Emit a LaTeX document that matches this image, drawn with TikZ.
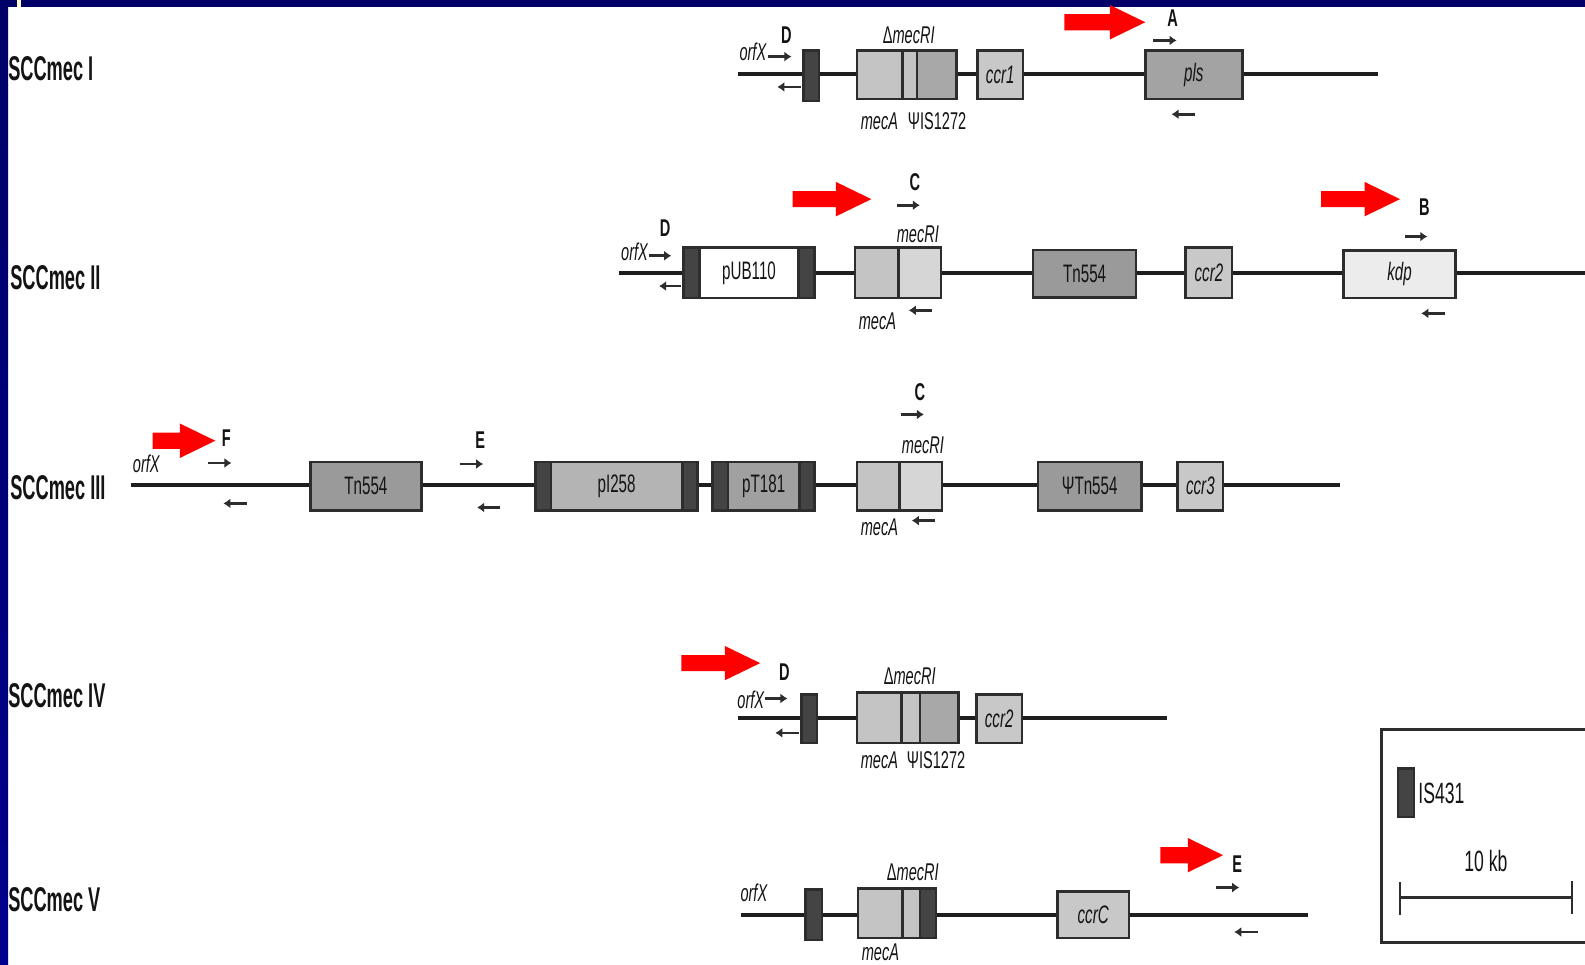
\documentclass[tikz,border=0pt]{standalone}
\usepackage{fontspec}
\setmainfont{Liberation Sans}[FakeStretch=0.6]
\newfontfamily\rowf{Liberation Sans}[FakeStretch=0.53]
\usetikzlibrary{arrows.meta}
\definecolor{navyA}{RGB}{0,0,104}
\definecolor{navyB}{RGB}{0,0,140}
\definecolor{lineC}{RGB}{30,30,30}
\definecolor{edgeC}{RGB}{45,45,45}
\definecolor{isC}{RGB}{68,68,68}
\definecolor{mecL}{RGB}{196,196,196}
\definecolor{mecLL}{RGB}{214,214,214}
\definecolor{mecD}{RGB}{168,168,168}
\definecolor{tnC}{RGB}{154,154,154}
\definecolor{ccrF}{RGB}{200,200,200}
\definecolor{plsC}{RGB}{163,163,163}
\definecolor{kdpC}{RGB}{236,236,236}
\definecolor{pIC}{RGB}{180,180,180}
\definecolor{pTC}{RGB}{160,160,160}
\definecolor{txtC}{RGB}{20,20,20}
\definecolor{arrowred}{RGB}{255,0,0}
\definecolor{markC}{RGB}{255,255,204}
\tikzset{
 backbone/.style={draw=lineC, line width=4pt},
 gbox/.style={draw=edgeC, line width=2.5pt, inner sep=0pt, text=txtC, font=\fontsize{25}{29}\selectfont},
 capbox/.style={gbox, fill=isC},
 lbl/.style={inner sep=0pt, text=txtC, font=\fontsize{24}{28}\selectfont},
 letter/.style={inner sep=0pt, text=txtC, font=\fontsize{24}{28}\selectfont\bfseries},
 biglbl/.style={inner sep=0pt, text=txtC, font=\fontsize{29}{34}\selectfont},
 rowlbl/.style={inner sep=0pt, anchor=west, text=txtC, font=\fontsize{34}{40}\rowf\bfseries},
 primer/.style={draw=edgeC, line width=2.6pt, -{Latex[length=7pt,width=10pt]}},
 legline/.style={draw=edgeC, line width=3pt},
}
\newcommand\redarrow[3]{%
 \fill[arrowred] (#1-#3,#2-8) -- (#1-35,#2-8) -- (#1-35,#2-17) -- (#1,#2) -- (#1-35,#2+17) -- (#1-35,#2+8) -- (#1-#3,#2+8) -- cycle;}
\begin{document}
\begin{tikzpicture}[x=1pt,y=-1pt]
\useasboundingbox (0,0) rectangle (1568,954);
\fill[white] (0,0) rectangle (1568,954);
% slide frame
\shade[top color=navyA,bottom color=navyB] (0,0) rectangle (8,954);
\fill[navyA] (0,0) rectangle (1568,6.5);
\fill[markC] (16.5,0) rectangle (20.5,6.5);

% row labels
\node[rowlbl] (r1) at (8,68) {SCCmec I};
\node[rowlbl] (r2) at (10,275) {SCCmec II};
\node[rowlbl] (r3) at (10,482) {SCCmec III};
\node[rowlbl] (r4) at (8,688) {SCCmec IV};
\node[rowlbl] (r5) at (8,890) {SCCmec V};

% ================= Row I
\coordinate (b1s) at (730,73); \coordinate (b1e) at (1363,73);
\draw[backbone] (b1s) -- (b1e);
\node[capbox, minimum width=15, minimum height=50] (is1) at (802.5,75) {};
\node[gbox, fill=mecL, minimum width=45, minimum height=48] (m1a) at (870.5,74) {};
\node[gbox, fill=mecL, minimum width=14, minimum height=48] (m1b) at (900,74) {};
\node[gbox, fill=mecD, minimum width=39, minimum height=48] (m1c) at (926.5,74) {};
\node[gbox, fill=ccrF, minimum width=45, minimum height=48] (ccr1) at (989.5,74) {\textit{ccr1}};
\node[gbox, fill=plsC, minimum width=96, minimum height=48] (pls) at (1181,74) {\textit{pls}};
\node[lbl] (orf1) at (745,51) {\textit{orfX}};
\node[letter] (D1) at (778,35) {D};
\coordinate (p1a) at (760,56); \coordinate (p1b) at (783,56);
\draw[primer] (p1a) -- (p1b);
\coordinate (p1c) at (792,86); \coordinate (p1d) at (769,86);
\draw[primer] (p1c) -- (p1d);
\node[lbl] (dm1) at (899,35) {Δ\textit{mecRI}};
\node[lbl] (ma1) at (870,120) {\textit{mecA}};
\node[lbl] (ps1) at (927,120) {ΨIS1272};
\redarrow{1133}{22}{80}
\node[letter] (A1) at (1160,18) {A};
\coordinate (p1e) at (1141,40); \coordinate (p1f) at (1164,40);
\draw[primer] (p1e) -- (p1f);
\coordinate (p1g) at (1182,113); \coordinate (p1h) at (1159,113);
\draw[primer] (p1g) -- (p1h);

% ================= Row II
\coordinate (b2s) at (612,270); \coordinate (b2e) at (1568,270);
\draw[backbone] (b2s) -- (b2e);
\node[lbl] (orf2) at (628,249) {\textit{orfX}};
\node[letter] (D2) at (658,226) {D};
\coordinate (p2a) at (642,253); \coordinate (p2b) at (664,253);
\draw[primer] (p2a) -- (p2b);
\coordinate (p2c) at (674,283); \coordinate (p2d) at (652,283);
\draw[primer] (p2c) -- (p2d);
\node[gbox, fill=white, minimum width=130, minimum height=50] (pub) at (741,270) {pUB110};
\node[capbox, minimum width=16, minimum height=50] (pubL) at (684,270) {};
\node[capbox, minimum width=16, minimum height=50] (pubR) at (798,270) {};
\node[gbox, fill=mecL, minimum width=43, minimum height=50] (m2a) at (867.5,270) {};
\node[gbox, fill=mecLL, minimum width=42, minimum height=50] (m2b) at (910,270) {};
\node[lbl] (mr2) at (908,232) {\textit{mecRI}};
\node[lbl] (ma2) at (868,318) {\textit{mecA}};
\coordinate (p2e) at (922,307); \coordinate (p2f) at (899,307);
\draw[primer] (p2e) -- (p2f);
\redarrow{862}{197}{78}
\node[letter] (C2) at (905,180) {C};
\coordinate (p2g) at (887,203); \coordinate (p2h) at (910,203);
\draw[primer] (p2g) -- (p2h);
\node[gbox, fill=tnC, minimum width=102, minimum height=47] (tn2) at (1073,271) {Tn554};
\node[gbox, fill=ccrF, minimum width=46, minimum height=50] (ccr2) at (1196,270) {\textit{ccr2}};
\node[gbox, fill=kdpC, minimum width=111, minimum height=47] (kdp) at (1384.5,271.5) {\textit{kdp}};
\redarrow{1385}{197}{78}
\node[letter] (B2) at (1409,205) {B};
\coordinate (p2i) at (1390,234); \coordinate (p2j) at (1412,234);
\draw[primer] (p2i) -- (p2j);
\coordinate (p2k) at (1429,310); \coordinate (p2l) at (1406,310);
\draw[primer] (p2k) -- (p2l);

% ================= Row III
\coordinate (b3s) at (130,480); \coordinate (b3e) at (1326,480);
\draw[backbone] (b3s) -- (b3e);
\node[lbl] (orf3) at (145,459) {\textit{orfX}};
\redarrow{213}{436}{62}
\node[letter] (F3) at (224,433) {F};
\coordinate (p3a) at (206,458); \coordinate (p3b) at (229,458);
\draw[primer] (p3a) -- (p3b);
\coordinate (p3c) at (244,498); \coordinate (p3d) at (221,498);
\draw[primer] (p3c) -- (p3d);
\node[gbox, fill=tnC, minimum width=110, minimum height=48] (tn3) at (362,481) {Tn554};
\node[letter] (E3) at (475,435) {E};
\coordinate (p3e) at (455,459); \coordinate (p3f) at (478,459);
\draw[primer] (p3e) -- (p3f);
\coordinate (p3g) at (495,502); \coordinate (p3h) at (472,502);
\draw[primer] (p3g) -- (p3h);
\node[gbox, fill=pIC, minimum width=160, minimum height=48] (pi) at (610,481) {pI258};
\node[capbox, minimum width=15, minimum height=48] (piL) at (537.5,481) {};
\node[capbox, minimum width=15, minimum height=48] (piR) at (682.5,481) {};
\node[gbox, fill=pTC, minimum width=101, minimum height=48] (pt) at (755.5,481) {pT181};
\node[capbox, minimum width=15, minimum height=48] (ptL) at (712.5,481) {};
\node[capbox, minimum width=15, minimum height=48] (ptR) at (798.5,481) {};
\node[gbox, fill=mecL, minimum width=42, minimum height=48] (m3a) at (869,481) {};
\node[gbox, fill=mecLL, minimum width=42, minimum height=48] (m3b) at (911,481) {};
\node[lbl] (mr3) at (913,440) {\textit{mecRI}};
\node[letter] (C3) at (910,388) {C};
\coordinate (p3i) at (891,410); \coordinate (p3j) at (914,410);
\draw[primer] (p3i) -- (p3j);
\node[lbl] (ma3) at (870,522) {\textit{mecA}};
\coordinate (p3k) at (925,515); \coordinate (p3l) at (902,515);
\draw[primer] (p3k) -- (p3l);
\node[gbox, fill=tnC, minimum width=102, minimum height=48] (ptn3) at (1078,481) {ΨTn554};
\node[gbox, fill=ccrF, minimum width=45, minimum height=48] (ccr3) at (1187.5,481) {\textit{ccr3}};

% ================= Row IV
\coordinate (b4s) at (730,710); \coordinate (b4e) at (1154,710);
\draw[backbone] (b4s) -- (b4e);
\redarrow{752}{656}{78}
\node[letter] (D4) at (776,665) {D};
\node[lbl] (orf4) at (743,692) {\textit{orfX}};
\coordinate (p4a) at (757,691); \coordinate (p4b) at (779,691);
\draw[primer] (p4a) -- (p4b);
\coordinate (p4c) at (790,725); \coordinate (p4d) at (767,725);
\draw[primer] (p4c) -- (p4d);
\node[capbox, minimum width=15, minimum height=48] (is4) at (800.5,711) {};
\node[gbox, fill=mecL, minimum width=44, minimum height=50] (m4a) at (870,710) {};
\node[gbox, fill=mecL, minimum width=18, minimum height=50] (m4b) at (901,710) {};
\node[gbox, fill=mecD, minimum width=38, minimum height=50] (m4c) at (929,710) {};
\node[lbl] (dm4) at (900,669) {Δ\textit{mecRI}};
\node[lbl] (ma4) at (870,752) {\textit{mecA}};
\node[lbl] (ps4) at (926,752) {ΨIS1272};
\node[gbox, fill=ccrF, minimum width=45, minimum height=48] (ccr4) at (988.5,711) {\textit{ccr2}};

% ================= Row V
\coordinate (b5s) at (733,905); \coordinate (b5e) at (1294,905);
\draw[backbone] (b5s) -- (b5e);
\node[lbl] (orf5) at (746,883) {\textit{orfX}};
\node[capbox, minimum width=16, minimum height=50] (is5) at (805,905) {};
\node[gbox, fill=mecL, minimum width=44, minimum height=49] (m5a) at (871,903.5) {};
\node[gbox, fill=mecL, minimum width=17, minimum height=49] (m5b) at (901.5,903.5) {};
\node[capbox, minimum width=16, minimum height=49] (m5c) at (918,903.5) {};
\node[lbl] (dm5) at (903,863) {Δ\textit{mecRI}};
\node[lbl] (ma5) at (871,942) {\textit{mecA}};
\node[gbox, fill=ccrF, minimum width=71, minimum height=46] (ccr5) at (1081.5,905) {\textit{ccrC}};
\redarrow{1210}{846}{62}
\node[letter] (E5) at (1224,855) {E};
\coordinate (p5a) at (1203,878); \coordinate (p5b) at (1226,878);
\draw[primer] (p5a) -- (p5b);
\coordinate (p5c) at (1244,922); \coordinate (p5d) at (1221,922);
\draw[primer] (p5c) -- (p5d);

% ================= Legend
\coordinate (lg1) at (1570,722); \coordinate (lg2) at (1367,722);
\coordinate (lg3) at (1367,932); \coordinate (lg4) at (1570,932);
\draw[legline] (lg1) -- (lg2) -- (lg3) -- (lg4);
\node[capbox, minimum width=16, minimum height=48] (isL) at (1391,784) {};
\node[biglbl, anchor=west] (isLt) at (1403,785) {IS431};
\node[biglbl] (kb) at (1470,852) {10 kb};
\coordinate (sb1) at (1385,888); \coordinate (sb2) at (1555,888);
\draw[legline] (sb1) -- (sb2);
\coordinate (t1a) at (1385,873); \coordinate (t1b) at (1385,905);
\coordinate (t2a) at (1555,872); \coordinate (t2b) at (1555,904);
\draw[legline, line width=2.5pt] (t1a) -- (t1b);
\draw[legline, line width=2.5pt] (t2a) -- (t2b);
\end{tikzpicture}
\end{document}
